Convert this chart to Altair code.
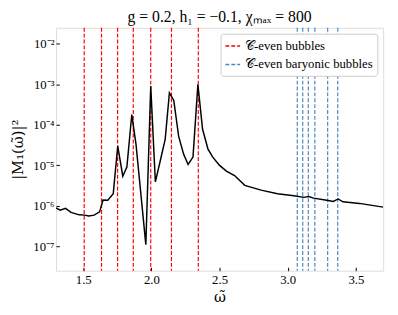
import altair as alt
import pandas as pd

# curve samples (omega, |M1|^2)
omega = [1.30, 1.33, 1.37, 1.41, 1.47, 1.51, 1.54, 1.58, 1.62, 1.645, 1.68, 1.72,
         1.753, 1.79, 1.82, 1.856, 1.887, 1.959, 1.995, 2.029, 2.065, 2.101, 2.132,
         2.164, 2.20, 2.236, 2.269, 2.305, 2.341, 2.375, 2.415, 2.45, 2.50, 2.55,
         2.61, 2.685, 2.805, 2.925, 3.045, 3.118, 3.154, 3.19, 3.286, 3.334, 3.37,
         3.406, 3.526, 3.70]
m1sq = [8.9e-7, 7.8e-7, 8.7e-7, 6.9e-7, 6.0e-7, 5.9e-7, 5.6e-7, 5.9e-7, 7.1e-7,
        1.4e-6, 1.38e-6, 2.0e-6, 3.0e-5, 5.4e-6, 9.1e-6, 1.8e-4, 3.3e-5, 1.1e-7,
        9.1e-4, 3.9e-6, 1.3e-5, 4.4e-5, 6.2e-4, 4.0e-4, 5.2e-5, 1.9e-5, 1.05e-5,
        1.6e-5, 1.0e-3, 7.9e-5, 2.5e-5, 1.6e-5, 1.0e-5, 7.2e-6, 5.6e-6, 3.2e-6,
        2.45e-6, 2.0e-6, 1.78e-6, 1.62e-6, 1.7e-6, 1.55e-6, 1.38e-6, 1.29e-6,
        1.48e-6, 1.26e-6, 1.15e-6, 9.3e-7]

even_bubbles = [1.507, 1.634, 1.752, 1.867, 1.995, 2.147, 2.344]
baryonic_bubbles = [3.07, 3.11, 3.151, 3.199, 3.293, 3.367]

label_even = "𝒞-even bubbles"
label_bary = "𝒞-even baryonic bubbles"

x_ticks = [1.5, 2.0, 2.5, 3.0, 3.5]
y_ticks = [1e-7, 1e-6, 1e-5, 1e-4, 1e-3, 1e-2]

curve = pd.DataFrame({"w": omega, "m": m1sq})
rules = pd.DataFrame({
    "w": even_bubbles + baryonic_bubbles,
    "kind": [label_even] * len(even_bubbles) + [label_bary] * len(baryonic_bubbles),
})

FONT = "Liberation Serif"
MATH = "DejaVu Serif"

xscale = alt.Scale(domain=[1.3, 3.7], nice=False, zero=False)
yscale = alt.Scale(type="log", domain=[2.5e-8, 2.5e-2], nice=False)

xaxis = alt.Axis(values=x_ticks, format=".1f", grid=False, domain=False,
                 offset=-3.5, tickSize=3.5, tickColor="black", labelPadding=3,
                 labelFont=FONT, labelFontSize=13, labelColor="black",
                 title="ω̃", titleFont=MATH, titleFontSize=15,
                 titleFontWeight="normal", titleColor="black", titlePadding=3)
ylabel = ("datum.value < 1.5e-7 ? '10⁻⁷' : datum.value < 1.5e-6 ? '10⁻⁶' : "
          "datum.value < 1.5e-5 ? '10⁻⁵' : datum.value < 1.5e-4 ? '10⁻⁴' : "
          "datum.value < 1.5e-3 ? '10⁻³' : '10⁻²'")
yaxis = alt.Axis(values=y_ticks, labelExpr=ylabel, grid=False, domain=False,
                 offset=-3.5, tickSize=3.5, tickColor="black", labelPadding=2,
                 labelFont=FONT, labelFontSize=13, labelColor="black",
                 title="|M₁(ω̃)|²", titleFont=MATH, titleFontSize=15,
                 titleFontWeight="normal", titleColor="black", titlePadding=8)

rule_layer = alt.Chart(rules).mark_rule(strokeWidth=1.2).encode(
    x=alt.X("w:Q", scale=xscale, axis=xaxis),
    color=alt.Color("kind:N",
                    scale=alt.Scale(domain=[label_even, label_bary],
                                    range=["#ff0000", "#4a86c0"]),
                    legend=alt.Legend(title=None, orient="top-right",
                                      symbolType="stroke", symbolSize=225,
                                      symbolStrokeWidth=1.5,
                                      labelFont=FONT, labelFontSize=13,
                                      labelColor="black",
                                      fillColor="white", strokeColor="#cccccc",
                                      padding=4, cornerRadius=3, offset=6,
                                      rowPadding=3)),
    strokeDash=alt.StrokeDash("kind:N",
                              scale=alt.Scale(domain=[label_even, label_bary],
                                              range=[[4, 2], [4, 2]]),
                              legend=None),
)

line_layer = alt.Chart(curve).mark_line(color="black", strokeWidth=1.5, clip=True).encode(
    x=alt.X("w:Q", scale=xscale, axis=xaxis),
    y=alt.Y("m:Q", scale=yscale, axis=yaxis),
)

chart = alt.layer(rule_layer, line_layer).properties(
    width=334, height=248,
    autosize=alt.AutoSizeParams(type="none"),
    padding={"left": 49, "top": 17, "right": 7, "bottom": 42},
    title=alt.TitleParams("g = 0.2, h₁ = −0.1, χₘₐₓ = 800", font=FONT,
                          fontSize=16, fontWeight="normal", color="black",
                          offset=2, anchor="middle"),
).configure_view(stroke="black", strokeWidth=1.2).configure(background="white")

chart.save("out.html", embed_options={"renderer": "svg", "actions": False})
